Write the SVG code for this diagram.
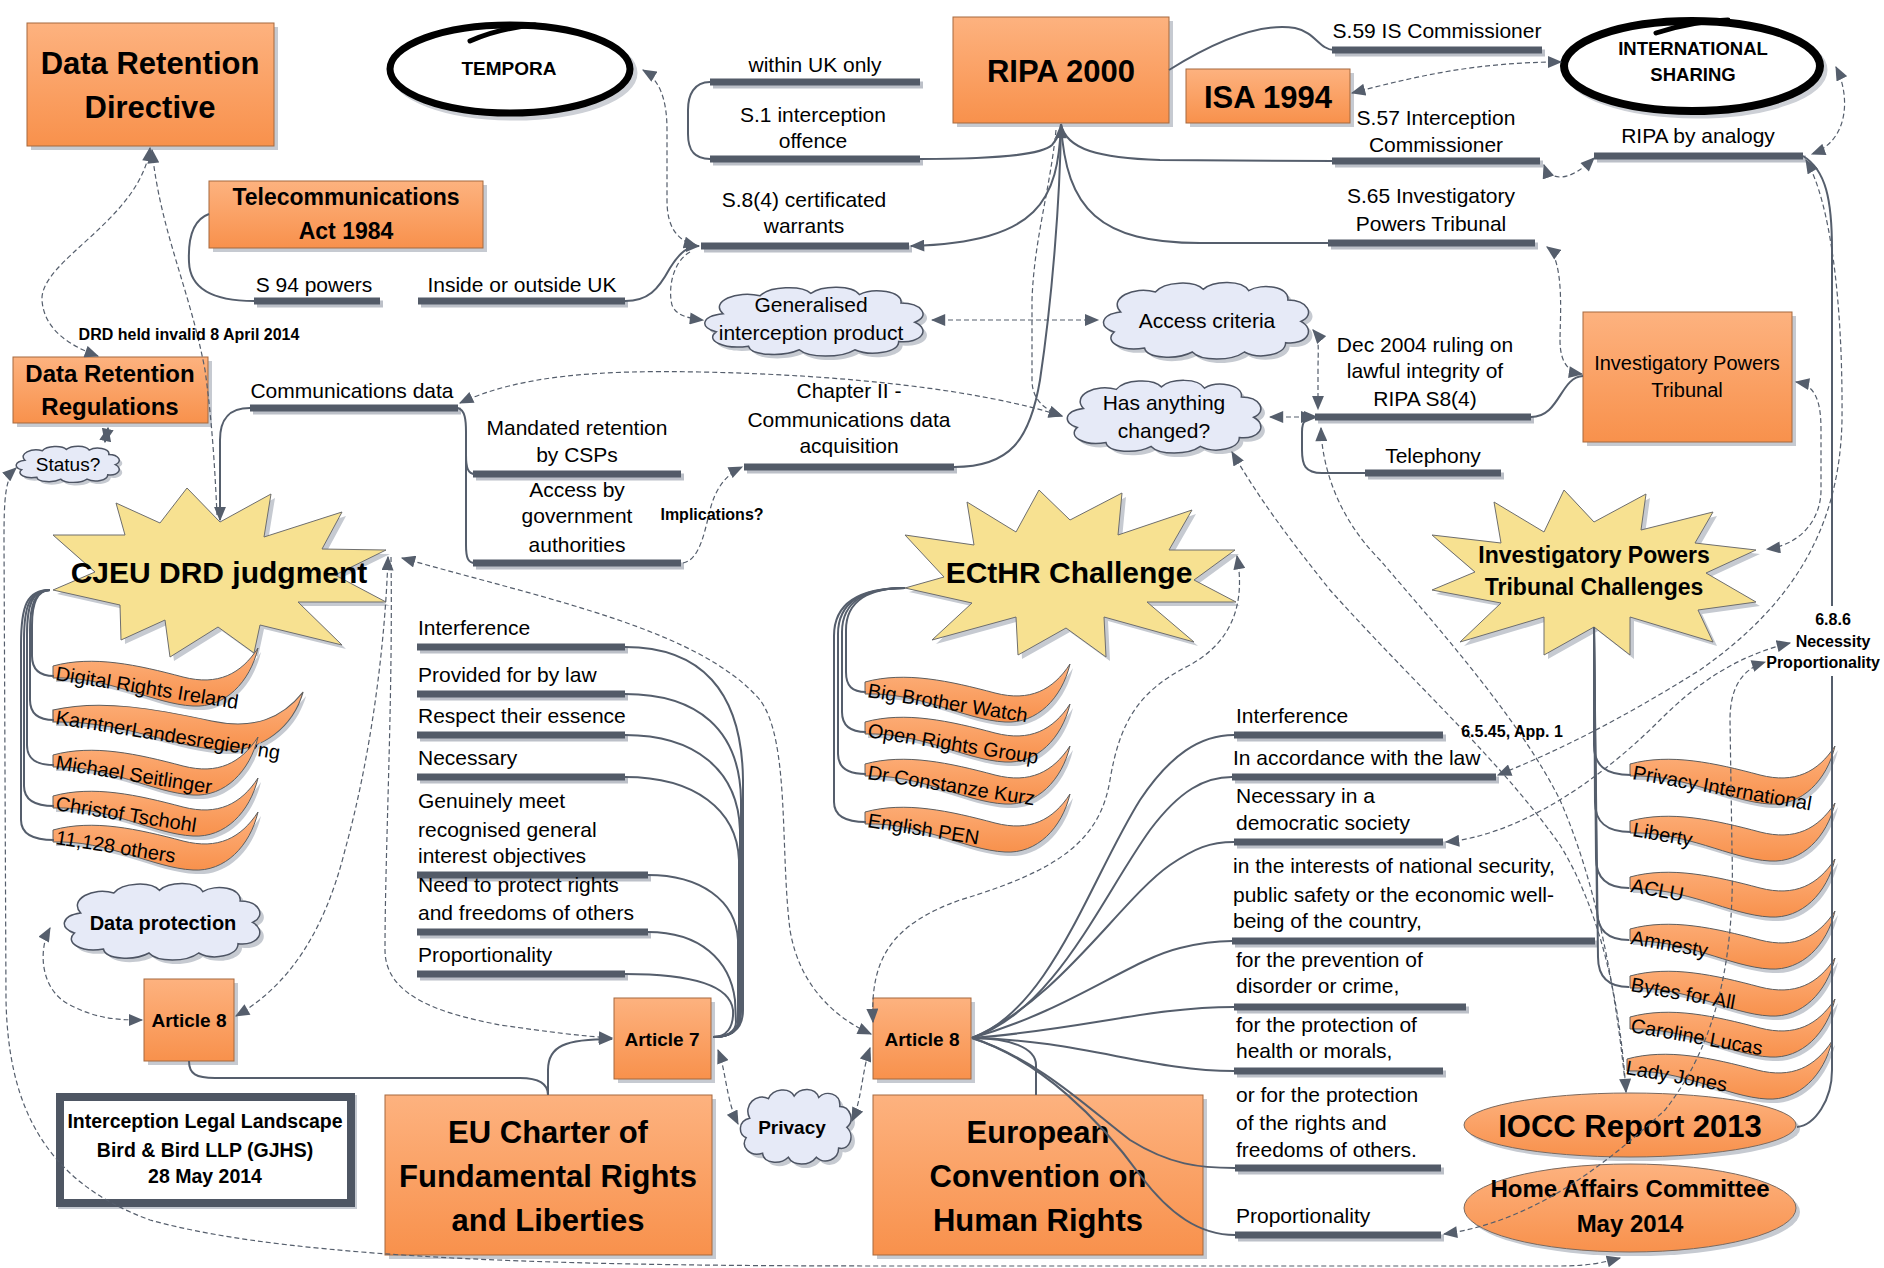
<svg xmlns="http://www.w3.org/2000/svg" xmlns:xlink="http://www.w3.org/1999/xlink" width="1884" height="1268" viewBox="0 0 1884 1268">
<style>
text{font-family:"Liberation Sans",Arial,sans-serif;fill:#000}
.b{font-weight:bold}
.m{text-anchor:middle}
.box{fill:url(#og);stroke:#A5693F;stroke-width:1}
.sh{fill:#C6CAD1}
.c{fill:none;stroke:#555E6C;stroke-width:2}
.d{fill:none;stroke:#555E6C;stroke-width:1.2;stroke-dasharray:5 3}
.bar{stroke:#535B68;stroke-width:7;fill:none}
.bsh{stroke:#BCC0C8;stroke-width:7;fill:none}
.star{fill:#F7E191;stroke:#6E6E6E;stroke-width:1}
.flag{fill:url(#og);stroke:#5E5E5E;stroke-width:1}
.fsh{fill:#C6CAD1}
.l{font-size:21px}
.f{font-size:20px}
.sl{font-size:16px;font-weight:bold}
</style>
<defs>
<linearGradient id="og" x1="0" y1="0" x2="0" y2="1"><stop offset="0" stop-color="#FDB27F"/><stop offset="1" stop-color="#F8914C"/></linearGradient>
<marker id="ar" viewBox="0 0 12 10" refX="11" refY="5" markerWidth="15" markerHeight="12" markerUnits="userSpaceOnUse" orient="auto-start-reverse"><path d="M0 0L12 5L0 10z" fill="#555E6C"/></marker>
<symbol id="cloud" viewBox="0 0 100 60" preserveAspectRatio="none"><path vector-effect="non-scaling-stroke" fill="#E6EAF7" stroke="#4D5463" stroke-width="1.5" d="M10 24C4 14 16 4 26 9C30 1 44 0 48 7C53 0 66 0 69 8C75 2 88 5 87 15C96 15 100 26 93 31C100 37 96 49 86 47C86 56 74 60 67 54C61 61 47 61 43 54C36 60 22 59 21 51C10 54 2 46 7 39C0 36 0 26 10 24Z"/></symbol>
<symbol id="cloudsh" viewBox="0 0 100 60" preserveAspectRatio="none"><path fill="#C6CAD1" d="M10 24C4 14 16 4 26 9C30 1 44 0 48 7C53 0 66 0 69 8C75 2 88 5 87 15C96 15 100 26 93 31C100 37 96 49 86 47C86 56 74 60 67 54C61 61 47 61 43 54C36 60 22 59 21 51C10 54 2 46 7 39C0 36 0 26 10 24Z"/></symbol>
<path id="flagp" d="M0 -6C40 -17 85 -7 130 5C165 14 188 2 205 -24C197 10 172 36 140 34C100 32 55 4 0 6Z"/>
</defs>
<rect width="1884" height="1268" fill="#fff"/>

<!-- Boxes -->
<g id="drd"><rect class="sh" x="31" y="27" width="247" height="123"/><rect class="box" x="27" y="23" width="247" height="123"/><text class="b m" x="150" y="74" font-size="31">Data Retention</text><text class="b m" x="150" y="118" font-size="31">Directive</text></g>
<g id="ta"><rect class="sh" x="213" y="185" width="274" height="67"/><rect class="box" x="209" y="181" width="274" height="67"/><text class="b m" x="346" y="205" font-size="23">Telecommunications</text><text class="b m" x="346" y="239" font-size="23">Act 1984</text></g>
<g id="ripa"><rect class="sh" x="957" y="21" width="216" height="106"/><rect class="box" x="953" y="17" width="216" height="106"/><text class="b m" x="1061" y="82" font-size="31">RIPA 2000</text></g>
<g id="isa"><rect class="sh" x="1190" y="73" width="164" height="54"/><rect class="box" x="1186" y="69" width="164" height="54"/><text class="b m" x="1268" y="108" font-size="31">ISA 1994</text></g>
<g id="ipt"><rect class="sh" x="1587" y="316" width="209" height="130"/><rect class="box" x="1583" y="312" width="209" height="130"/><text class="m" x="1687" y="370" font-size="20">Investigatory Powers</text><text class="m" x="1687" y="397" font-size="20">Tribunal</text></g>
<g id="drr"><rect class="sh" x="17" y="361" width="195" height="66"/><rect class="box" x="13" y="357" width="195" height="66"/><text class="b m" x="110" y="382" font-size="24">Data Retention</text><text class="b m" x="110" y="415" font-size="24">Regulations</text></g>
<g id="art8l"><rect class="sh" x="148" y="983" width="90" height="82"/><rect class="box" x="144" y="979" width="90" height="82"/><text class="b m" x="189" y="1027" font-size="19">Article 8</text></g>
<g id="art7"><rect class="sh" x="618" y="1002" width="97" height="81"/><rect class="box" x="614" y="998" width="97" height="81"/><text class="b m" x="662" y="1046" font-size="19">Article 7</text></g>
<g id="art8e"><rect class="sh" x="877" y="1002" width="98" height="81"/><rect class="box" x="873" y="998" width="98" height="81"/><text class="b m" x="922" y="1046" font-size="19">Article 8</text></g>
<g id="euc"><rect class="sh" x="389" y="1099" width="327" height="160"/><rect class="box" x="385" y="1095" width="327" height="160"/><text class="b m" x="548" y="1143" font-size="31">EU Charter of</text><text class="b m" x="548" y="1187" font-size="31">Fundamental Rights</text><text class="b m" x="548" y="1231" font-size="31">and Liberties</text></g>
<g id="echr"><rect class="sh" x="877" y="1099" width="330" height="160"/><rect class="box" x="873" y="1095" width="330" height="160"/><text class="b m" x="1038" y="1143" font-size="31">European</text><text class="b m" x="1038" y="1187" font-size="31">Convention on</text><text class="b m" x="1038" y="1231" font-size="31">Human Rights</text></g>
<g id="ill"><rect x="62" y="1099" width="291" height="106" fill="none" stroke="#C6CAD1" stroke-width="8"/><rect x="60" y="1097" width="291" height="106" fill="#fff" stroke="#4E5663" stroke-width="8"/><text class="b m" x="205" y="1128" font-size="19.5">Interception Legal Landscape</text><text class="b m" x="205" y="1157" font-size="19.5">Bird &amp; Bird LLP (GJHS)</text><text class="b m" x="205" y="1183" font-size="19.5">28 May 2014</text></g>

<!-- Ellipses -->
<g id="tempora"><ellipse cx="514" cy="73" rx="120" ry="44" fill="none" stroke="#CDD0D6" stroke-width="7"/><ellipse cx="510" cy="69" rx="120" ry="44" fill="#fff" stroke="#000" stroke-width="7"/><path d="M470 41C492 31 512 27 535 25" fill="none" stroke="#000" stroke-width="5" stroke-linecap="round"/><text class="b m" x="509" y="75" font-size="19">TEMPORA</text></g>
<g id="intl"><ellipse cx="1696" cy="70" rx="128" ry="45" fill="none" stroke="#CDD0D6" stroke-width="7"/><ellipse cx="1692" cy="66" rx="128" ry="45" fill="#fff" stroke="#000" stroke-width="8"/><path d="M1656 33C1680 25 1702 21 1728 20" fill="none" stroke="#000" stroke-width="5" stroke-linecap="round"/><text class="b m" x="1693" y="55" font-size="18.5">INTERNATIONAL</text><text class="b m" x="1693" y="81" font-size="18.5">SHARING</text></g>
<g id="iocc"><ellipse cx="1634" cy="1129" rx="166" ry="32" class="sh"/><ellipse cx="1630" cy="1125" rx="166" ry="32" fill="url(#og)" stroke="#7A6A60" stroke-width="1"/><text class="b m" x="1630" y="1137" font-size="31">IOCC Report 2013</text></g>
<g id="hac"><ellipse cx="1634" cy="1212" rx="166" ry="44" class="sh"/><ellipse cx="1630" cy="1208" rx="166" ry="44" fill="url(#og)" stroke="#7A6A60" stroke-width="1"/><text class="b m" x="1630" y="1197" font-size="24">Home Affairs Committee</text><text class="b m" x="1630" y="1232" font-size="24">May 2014</text></g>

<!-- Clouds -->
<g id="gen"><use href="#cloudsh" x="704" y="289" width="231" height="72"/><use href="#cloud" x="700" y="285" width="231" height="72"/><text class="m" x="811" y="312" font-size="21">Generalised</text><text class="m" x="811" y="340" font-size="21">interception product</text></g>
<g id="acc"><use href="#cloudsh" x="1103" y="284" width="217" height="80"/><use href="#cloud" x="1099" y="280" width="217" height="80"/><text class="m" x="1207" y="328" font-size="21">Access criteria</text></g>
<g id="hasch"><use href="#cloudsh" x="1067" y="382" width="205" height="76"/><use href="#cloud" x="1063" y="378" width="205" height="76"/><text class="m" x="1164" y="410" font-size="21">Has anything</text><text class="m" x="1164" y="438" font-size="21">changed?</text></g>
<g id="status"><use href="#cloudsh" x="17" y="448" width="109" height="38"/><use href="#cloud" x="14" y="445" width="109" height="38"/><text class="m" x="68" y="471" font-size="19">Status?</text></g>
<g id="dp"><use href="#cloudsh" x="64" y="885" width="207" height="80"/><use href="#cloud" x="60" y="881" width="207" height="80"/><text class="b m" x="163" y="930" font-size="20">Data protection</text></g>
<g id="privacy"><use href="#cloudsh" x="742" y="1091" width="117" height="78"/><use href="#cloud" x="738" y="1087" width="117" height="78"/><text class="b m" x="792" y="1134" font-size="19">Privacy</text></g>

<!-- Stars -->
<g id="cjeu"><polygon class="sh" transform="translate(4,4)" points="116,503 160,523 187,488 220,522 271,494 264,537 342,512 322,549 386,550 335,575 386,602 298,602 342,645 260,625 254,653 218,627 170,657 165,620 121,640 120,605 53,590 95,572 53,535 125,535"/><polygon class="star" points="116,503 160,523 187,488 220,522 271,494 264,537 342,512 322,549 386,550 335,575 386,602 298,602 342,645 260,625 254,653 218,627 170,657 165,620 121,640 120,605 53,590 95,572 53,535 125,535"/><text class="b m" x="219" y="583" font-size="30">CJEU DRD judgment</text></g>
<g id="ecthr"><polygon class="sh" transform="translate(4,4)" points="967,502 1016,532 1039,490 1070,520 1122,493 1118,535 1192,510 1169,550 1235,550 1194,580 1236,602 1147,602 1194,642 1104,617 1106,657 1066,628 1018,655 1016,617 932,640 972,603 905,588 944,577 905,535 974,545"/><polygon class="star" points="967,502 1016,532 1039,490 1070,520 1122,493 1118,535 1192,510 1169,550 1235,550 1194,580 1236,602 1147,602 1194,642 1104,617 1106,657 1066,628 1018,655 1016,617 932,640 972,603 905,588 944,577 905,535 974,545"/><text class="b m" x="1069" y="583" font-size="30">ECtHR Challenge</text></g>
<g id="iptc"><polygon class="sh" transform="translate(4,4)" points="1494,502 1544,532 1564,490 1594,522 1646,494 1641,530 1713,512 1695,543 1756,550 1706,573 1756,602 1698,610 1713,642 1630,617 1630,655 1594,627 1544,655 1544,617 1460,642 1501,603 1432,590 1475,572 1432,535 1501,543"/><polygon class="star" points="1494,502 1544,532 1564,490 1594,522 1646,494 1641,530 1713,512 1695,543 1756,550 1706,573 1756,602 1698,610 1713,642 1630,617 1630,655 1594,627 1544,655 1544,617 1460,642 1501,603 1432,590 1475,572 1432,535 1501,543"/><text class="b m" x="1594" y="563" font-size="23">Investigatory Powers</text><text class="b m" x="1594" y="595" font-size="23">Tribunal Challenges</text></g>

<!-- Flags CJEU -->
<g id="f-dri"><use href="#flagp" class="fsh" transform="translate(56,676)"/><use href="#flagp" class="flag" transform="translate(53,672)"/><text class="f" transform="translate(55,680) rotate(9)">Digital Rights Ireland</text></g>
<g id="f-karn"><use href="#flagp" class="fsh" transform="translate(56,720) scale(1.22,1)"/><use href="#flagp" class="flag" transform="translate(53,716) scale(1.22,1)"/><text class="f" transform="translate(55,724) rotate(9)">KarntnerLandesregierung</text></g>
<g id="f-ms"><use href="#flagp" class="fsh" transform="translate(56,765)"/><use href="#flagp" class="flag" transform="translate(53,761)"/><text class="f" transform="translate(55,769) rotate(9)">Michael Seitlinger</text></g>
<g id="f-ct"><use href="#flagp" class="fsh" transform="translate(56,806)"/><use href="#flagp" class="flag" transform="translate(53,802)"/><text class="f" transform="translate(55,810) rotate(9)">Christof Tschohl</text></g>
<g id="f-oth"><use href="#flagp" class="fsh" transform="translate(56,840)"/><use href="#flagp" class="flag" transform="translate(53,836)"/><text class="f" transform="translate(55,844) rotate(9)">11,128 others</text></g>

<!-- Flags ECtHR -->
<g id="f-bbw"><use href="#flagp" class="fsh" transform="translate(868,692)"/><use href="#flagp" class="flag" transform="translate(865,688)"/><text class="f" transform="translate(867,697) rotate(9)">Big Brother Watch</text></g>
<g id="f-org"><use href="#flagp" class="fsh" transform="translate(868,732)"/><use href="#flagp" class="flag" transform="translate(865,728)"/><text class="f" transform="translate(867,737) rotate(9)">Open Rights Group</text></g>
<g id="f-dck"><use href="#flagp" class="fsh" transform="translate(868,774)"/><use href="#flagp" class="flag" transform="translate(865,770)"/><text class="f" transform="translate(867,779) rotate(9)">Dr Constanze Kurz</text></g>
<g id="f-pen"><use href="#flagp" class="fsh" transform="translate(868,822)"/><use href="#flagp" class="flag" transform="translate(865,818)"/><text class="f" transform="translate(867,827) rotate(9)">English PEN</text></g>

<!-- Flags IPT -->
<g id="f-pi"><use href="#flagp" class="fsh" transform="translate(1633,774)"/><use href="#flagp" class="flag" transform="translate(1630,770)"/><text class="f" transform="translate(1632,779) rotate(10)">Privacy International</text></g>
<g id="f-lib"><use href="#flagp" class="fsh" transform="translate(1633,831)"/><use href="#flagp" class="flag" transform="translate(1630,827)"/><text class="f" transform="translate(1632,836) rotate(10)">Liberty</text></g>
<g id="f-aclu"><use href="#flagp" class="fsh" transform="translate(1633,887)"/><use href="#flagp" class="flag" transform="translate(1630,883)"/><text class="f" transform="translate(1630,892) rotate(10)">ACLU</text></g>
<g id="f-amn"><use href="#flagp" class="fsh" transform="translate(1633,939)"/><use href="#flagp" class="flag" transform="translate(1630,935)"/><text class="f" transform="translate(1630,944) rotate(10)">Amnesty</text></g>
<g id="f-b4a"><use href="#flagp" class="fsh" transform="translate(1633,986)"/><use href="#flagp" class="flag" transform="translate(1630,982)"/><text class="f" transform="translate(1630,991) rotate(10)">Bytes for All</text></g>
<g id="f-cl"><use href="#flagp" class="fsh" transform="translate(1633,1027)"/><use href="#flagp" class="flag" transform="translate(1630,1023)"/><text class="f" transform="translate(1630,1032) rotate(10)">Caroline Lucas</text></g>
<g id="f-lj"><use href="#flagp" class="fsh" transform="translate(1630,1069)"/><use href="#flagp" class="flag" transform="translate(1627,1065)"/><text class="f" transform="translate(1625,1074) rotate(10)">Lady Jones</text></g>

<!-- Label topics (text + bar) -->
<g id="t-within"><path class="bsh" d="M713 85H923"/><path class="bar" d="M710 82H920"/><text class="l m" x="815" y="72">within UK only</text></g>
<g id="t-s1"><path class="bsh" d="M713 162H923"/><path class="bar" d="M710 159H920"/><text class="l m" x="813" y="122">S.1 interception</text><text class="l m" x="813" y="148">offence</text></g>
<g id="t-s84"><path class="bsh" d="M704 249H912"/><path class="bar" d="M701 246H909"/><text class="l m" x="804" y="207">S.8(4) certificated</text><text class="l m" x="804" y="233">warrants</text></g>
<g id="t-s94"><path class="bsh" d="M257 304H383"/><path class="bar" d="M254 301H380"/><text class="l m" x="314" y="292">S 94 powers</text></g>
<g id="t-inside"><path class="bsh" d="M421 304H628"/><path class="bar" d="M418 301H625"/><text class="l m" x="522" y="292">Inside or outside UK</text></g>
<g id="t-comms"><path class="bsh" d="M253 411H461"/><path class="bar" d="M250 408H458"/><text class="l m" x="352" y="398">Communications data</text></g>
<g id="t-mand"><path class="bsh" d="M476 477H684"/><path class="bar" d="M473 474H681"/><text class="l m" x="577" y="435">Mandated retention</text><text class="l m" x="577" y="462">by CSPs</text></g>
<g id="t-access"><path class="bsh" d="M476 566H684"/><path class="bar" d="M473 563H681"/><text class="l m" x="577" y="497">Access by</text><text class="l m" x="577" y="523">government</text><text class="l m" x="577" y="552">authorities</text></g>
<g id="t-chap"><path class="bsh" d="M747 470H957"/><path class="bar" d="M744 467H954"/><text class="l m" x="849" y="398">Chapter II -</text><text class="l m" x="849" y="427">Communications data</text><text class="l m" x="849" y="453">acquisition</text></g>
<g id="t-s59"><path class="bsh" d="M1335 53H1545"/><path class="bar" d="M1332 50H1542"/><text class="l m" x="1437" y="38">S.59 IS Commissioner</text></g>
<g id="t-s57"><path class="bsh" d="M1335 164H1543"/><path class="bar" d="M1332 161H1540"/><text class="l m" x="1436" y="125">S.57 Interception</text><text class="l m" x="1436" y="152">Commissioner</text></g>
<g id="t-s65"><path class="bsh" d="M1331 246H1538"/><path class="bar" d="M1328 243H1535"/><text class="l m" x="1431" y="203">S.65 Investigatory</text><text class="l m" x="1431" y="231">Powers Tribunal</text></g>
<g id="t-ripaan"><path class="bsh" d="M1597 159H1806"/><path class="bar" d="M1594 156H1803"/><text class="l m" x="1698" y="143">RIPA by analogy</text></g>
<g id="t-dec"><path class="bsh" d="M1318 420H1534"/><path class="bar" d="M1315 417H1531"/><text class="l m" x="1425" y="352">Dec 2004 ruling on</text><text class="l m" x="1425" y="378">lawful integrity of</text><text class="l m" x="1425" y="406">RIPA S8(4)</text></g>
<g id="t-tel"><path class="bsh" d="M1368 476H1504"/><path class="bar" d="M1365 473H1501"/><text class="l m" x="1433" y="463">Telephony</text></g>

<g id="t-int7"><path class="bsh" d="M420 650H628"/><path class="bar" d="M417 647H625"/><text class="l" x="418" y="635">Interference</text></g>
<g id="t-prov"><path class="bsh" d="M420 697H628"/><path class="bar" d="M417 694H625"/><text class="l" x="418" y="682">Provided for by law</text></g>
<g id="t-resp"><path class="bsh" d="M420 738H628"/><path class="bar" d="M417 735H625"/><text class="l" x="418" y="723">Respect their essence</text></g>
<g id="t-nec7"><path class="bsh" d="M420 780H628"/><path class="bar" d="M417 777H625"/><text class="l" x="418" y="765">Necessary</text></g>
<g id="t-gen"><path class="bsh" d="M420 878H651"/><path class="bar" d="M417 875H648"/><text class="l" x="418" y="808">Genuinely meet</text><text class="l" x="418" y="837">recognised general</text><text class="l" x="418" y="863">interest objectives</text></g>
<g id="t-need"><path class="bsh" d="M420 935H651"/><path class="bar" d="M417 932H648"/><text class="l" x="418" y="892">Need to protect rights</text><text class="l" x="418" y="920">and freedoms of others</text></g>
<g id="t-prop7"><path class="bsh" d="M420 977H628"/><path class="bar" d="M417 974H625"/><text class="l" x="418" y="962">Proportionality</text></g>

<g id="e-int"><path class="bsh" d="M1237 738H1446"/><path class="bar" d="M1234 735H1443"/><text class="l" x="1236" y="723">Interference</text></g>
<g id="e-acc"><path class="bsh" d="M1235 780H1499"/><path class="bar" d="M1232 777H1496"/><text class="l" x="1233" y="765">In accordance with the law</text></g>
<g id="e-nec"><path class="bsh" d="M1237 845H1446"/><path class="bar" d="M1234 842H1443"/><text class="l" x="1236" y="803">Necessary in a</text><text class="l" x="1236" y="830">democratic society</text></g>
<g id="e-nat"><path class="bsh" d="M1235 944H1598"/><path class="bar" d="M1232 941H1595"/><text class="l" x="1233" y="873">in the interests of national security,</text><text class="l" x="1233" y="902">public safety or the economic well-</text><text class="l" x="1233" y="928">being of the country,</text></g>
<g id="e-prev"><path class="bsh" d="M1237 1010H1469"/><path class="bar" d="M1234 1007H1466"/><text class="l" x="1236" y="967">for the prevention of</text><text class="l" x="1236" y="993">disorder or crime,</text></g>
<g id="e-health"><path class="bsh" d="M1237 1074H1446"/><path class="bar" d="M1234 1071H1443"/><text class="l" x="1236" y="1032">for the protection of</text><text class="l" x="1236" y="1058">health or morals,</text></g>
<g id="e-rights"><path class="bsh" d="M1238 1171H1444"/><path class="bar" d="M1235 1168H1441"/><text class="l" x="1236" y="1102">or for the protection</text><text class="l" x="1236" y="1130">of the rights and</text><text class="l" x="1236" y="1157">freedoms of others.</text></g>
<g id="e-prop"><path class="bsh" d="M1238 1238H1444"/><path class="bar" d="M1235 1235H1441"/><text class="l" x="1236" y="1223">Proportionality</text></g>

<!-- Connectors -->
<g id="connectors">
<path class="c" d="M209 214C192 220 188 240 189 262C190 290 215 301 254 301"/>
<path class="c" d="M625 301C648 301 658 290 670 268C680 252 688 246 699 246" marker-end="url(#ar)"/>
<path class="c" d="M1061 124C1058 200 1040 242 911 246" marker-end="url(#ar)"/>
<path class="c" d="M710 82C694 82 688 95 688 110L688 134C688 150 694 159 710 159"/>
<path class="c" d="M920 159C990 159 1040 156 1052 145C1058 138 1061 132 1061 124"/>
<path class="c" d="M1169 70C1230 32 1270 24 1295 28C1315 32 1320 50 1334 50"/>
<path class="c" d="M1061 124C1066 150 1100 158 1160 160L1334 161"/>
<path class="c" d="M1061 124C1066 210 1100 243 1200 243L1330 243"/>
<path class="c" d="M954 467C1010 467 1030 440 1040 380C1052 300 1060 200 1061 125" marker-end="url(#ar)"/>
<path class="c" d="M250 408C228 408 220 420 220 440L220 520" marker-end="url(#ar)"/>
<path class="c" d="M458 408C465 410 466 420 466 432L466 545C466 558 468 563 475 563M466 455C466 468 468 474 475 474"/>
<path class="c" d="M1531 417C1560 417 1560 377 1583 376"/>
<path class="c" d="M1365 473L1322 473C1305 473 1302 465 1302 450L1302 432C1302 420 1306 417 1317 417" marker-end="url(#ar)"/>
<path class="c" d="M1803 156C1826 170 1832 200 1832 250L1832 606M1832 676L1832 1070C1832 1100 1815 1125 1797 1127"/>
<path class="c" d="M548 1095L548 1070C548 1046 565 1039 612 1039" marker-end="url(#ar)"/>
<path class="c" d="M189 1061C189 1074 196 1078 215 1078L520 1078C540 1078 548 1085 548 1095"/>
<path class="c" d="M1036 1095L1036 1065C1036 1048 1010 1038 972 1038"/>
<path class="c" d="M108 428L105 442" stroke-width="4" marker-start="url(#ar)" marker-end="url(#ar)"/>
<!-- CJEU flags -->
<path class="c" d="M50 590C37 590 32 605 32 625L32 656C32 670 40 676 54 676"/>
<path class="c" d="M50 590C35 590 30 605 30 630L30 700C30 714 38 720 54 720"/>
<path class="c" d="M50 590C32 590 27 605 27 635L27 745C27 759 36 765 54 765"/>
<path class="c" d="M50 590C30 590 24 605 24 640L24 786C24 800 34 806 54 806"/>
<path class="c" d="M50 590C27 590 21 605 21 645L21 820C21 834 32 840 54 840"/>
<!-- ECtHR flags -->
<path class="c" d="M905 588C870 588 846 600 846 630L846 672C846 686 852 692 866 692"/>
<path class="c" d="M905 588C868 588 842 600 842 632L842 712C842 726 850 732 866 732"/>
<path class="c" d="M905 588C866 588 838 600 838 634L838 754C838 768 848 774 866 774"/>
<path class="c" d="M905 588C864 588 834 600 834 636L834 802C834 816 846 822 866 822"/>
<!-- IPT flags -->
<path class="c" d="M1594 627L1594 745C1594 765 1605 775 1631 775"/>
<path class="c" d="M1594 627L1595 802C1595 822 1606 832 1631 832"/>
<path class="c" d="M1594 627L1596 858C1596 878 1607 888 1629 888"/>
<path class="c" d="M1594 627L1597 910C1597 930 1608 940 1629 940"/>
<path class="c" d="M1594 627L1598 957C1598 977 1609 987 1629 987"/>
<!-- Article 7 fan -->
<path class="c" d="M625 647C700 647 742 690 743 780L743 1010C743 1030 730 1037 713 1037"/>
<path class="c" d="M625 694C698 694 740 730 741 800L741 1012C741 1030 730 1037 713 1037"/>
<path class="c" d="M625 735C695 735 738 770 740 830L740 1015C740 1030 730 1037 713 1037"/>
<path class="c" d="M625 777C695 777 737 810 739 860L739 1018C739 1031 729 1037 713 1037"/>
<path class="c" d="M648 875C700 875 736 900 738 940L738 1020C738 1032 728 1037 713 1037"/>
<path class="c" d="M648 932C700 932 730 960 735 1000L736 1022C736 1032 726 1037 713 1037"/>
<path class="c" d="M625 974C690 974 730 985 733 1010C734 1028 726 1037 713 1037"/>
<!-- Article 8 ECHR fan -->
<path class="c" d="M972 1038C1050 1010 1090 880 1140 800C1170 755 1200 735 1234 735"/>
<path class="c" d="M972 1038C1055 1010 1100 900 1150 830C1180 790 1205 777 1232 777"/>
<path class="c" d="M972 1038C1060 1000 1120 900 1170 865C1195 848 1210 842 1234 842"/>
<path class="c" d="M972 1038C1070 1010 1130 960 1180 948C1200 943 1215 941 1232 941"/>
<path class="c" d="M972 1038C1080 1030 1150 1007 1234 1007"/>
<path class="c" d="M972 1038C1080 1040 1150 1071 1234 1071"/>
<path class="c" d="M972 1038C1040 1060 1090 1110 1130 1140C1170 1165 1200 1168 1235 1168"/>
<path class="c" d="M972 1038C1040 1060 1100 1120 1140 1175C1170 1215 1200 1235 1235 1235"/>
<!-- dashed -->
<path class="d" d="M643 70C660 80 667 100 667 130L667 200C667 225 675 240 697 246" marker-start="url(#ar)" marker-end="url(#ar)"/>
<path class="d" d="M690 252C672 262 668 290 672 305C676 315 686 318 703 320" marker-end="url(#ar)"/>
<path class="d" d="M932 320L1098 320" marker-start="url(#ar)" marker-end="url(#ar)"/>
<path class="d" d="M1313 330C1320 338 1318 350 1318 370L1318 409" marker-start="url(#ar)" marker-end="url(#ar)"/>
<path class="d" d="M1270 417L1314 417" marker-start="url(#ar)" marker-end="url(#ar)"/>
<path class="d" d="M1056 130C1050 190 1034 240 1032 300L1032 380C1032 400 1045 410 1062 416" marker-end="url(#ar)"/>
<path class="d" d="M460 403C520 375 600 370 700 372C850 375 980 390 1062 416" marker-start="url(#ar)" marker-end="url(#ar)"/>
<path class="d" d="M683 563C700 560 705 530 710 510C715 490 725 475 742 467" marker-end="url(#ar)"/>
<path class="d" d="M1352 93C1420 75 1480 62 1561 62" marker-start="url(#ar)" marker-end="url(#ar)"/>
<path class="d" d="M1544 165C1550 182 1570 182 1594 158" marker-start="url(#ar)" marker-end="url(#ar)"/>
<path class="d" d="M1836 67C1850 95 1850 140 1812 154" marker-start="url(#ar)" marker-end="url(#ar)"/>
<path class="d" d="M1547 247C1565 260 1560 320 1560 340C1560 362 1568 372 1582 374" marker-start="url(#ar)" marker-end="url(#ar)"/>
<path class="d" d="M1796 382C1815 385 1821 400 1821 430L1821 490C1821 520 1800 545 1767 549" marker-start="url(#ar)" marker-end="url(#ar)"/>
<path class="d" d="M1806 160C1830 200 1843 300 1842 420C1840 520 1800 600 1700 670C1620 720 1560 750 1498 775" marker-start="url(#ar)" marker-end="url(#ar)"/>
<path class="d" d="M1446 842C1520 835 1600 780 1660 720C1700 680 1740 655 1790 643" marker-start="url(#ar)" marker-end="url(#ar)"/>
<path class="d" d="M1444 1234C1530 1222 1600 1170 1665 1110C1720 1040 1735 950 1732 850L1730 720C1730 690 1740 670 1765 662" marker-start="url(#ar)" marker-end="url(#ar)"/>
<path class="d" d="M1232 452C1260 500 1290 540 1330 590C1420 690 1500 760 1560 845C1600 910 1620 1000 1626 1092" marker-start="url(#ar)" marker-end="url(#ar)"/>
<path class="d" d="M1321 428C1322 470 1340 520 1380 560C1440 630 1520 720 1560 800C1595 880 1615 980 1626 1092" marker-start="url(#ar)"/>
<path class="d" d="M16 468C5 478 4 500 4 540L6 1000C8 1100 40 1180 150 1220C300 1262 600 1266 900 1266L1560 1266C1590 1266 1605 1262 1620 1258" marker-start="url(#ar)" marker-end="url(#ar)"/>
<path class="d" d="M150 148C140 220 40 260 42 300C44 330 70 346 98 356" marker-start="url(#ar)" marker-end="url(#ar)"/>
<path class="d" d="M152 150C160 230 190 290 205 370C212 420 215 470 217 515" marker-start="url(#ar)"/>
<path class="d" d="M50 928C38 950 40 990 70 1005C95 1018 115 1020 142 1020" marker-start="url(#ar)" marker-end="url(#ar)"/>
<path class="d" d="M388 557C385 650 370 760 345 850C325 930 290 985 236 1016" marker-start="url(#ar)" marker-end="url(#ar)"/>
<path class="d" d="M391 557C393 700 385 850 385 950C385 1000 450 1015 500 1025C550 1032 580 1036 612 1038" marker-end="url(#ar)"/>
<path class="d" d="M402 558C550 600 700 630 760 700C790 740 780 850 790 930C800 990 840 1020 871 1034" marker-start="url(#ar)" marker-end="url(#ar)"/>
<path class="d" d="M1237 556C1245 600 1235 640 1190 665C1140 690 1120 720 1110 780C1100 840 1060 870 960 900C890 925 870 960 873 1022" marker-start="url(#ar)" marker-end="url(#ar)"/>
<path class="d" d="M718 1050C726 1070 726 1100 738 1124" marker-start="url(#ar)" marker-end="url(#ar)"/>
<path class="d" d="M852 1121C862 1100 862 1070 870 1048" marker-start="url(#ar)" marker-end="url(#ar)"/>
</g>

<!-- connector labels -->
<g id="labels">
<text class="sl m" x="189" y="340">DRD held invalid 8 April 2014</text>
<text class="sl m" x="712" y="520">Implications?</text>
<text class="sl m" x="1512" y="737">6.5.45, App. 1</text>
<text class="sl m" x="1833" y="625">6.8.6</text>
<text class="sl m" x="1833" y="647">Necessity</text>
<text class="sl" x="1880" y="668" font-size="15" text-anchor="end">Proportionality</text>
</g>
</svg>
